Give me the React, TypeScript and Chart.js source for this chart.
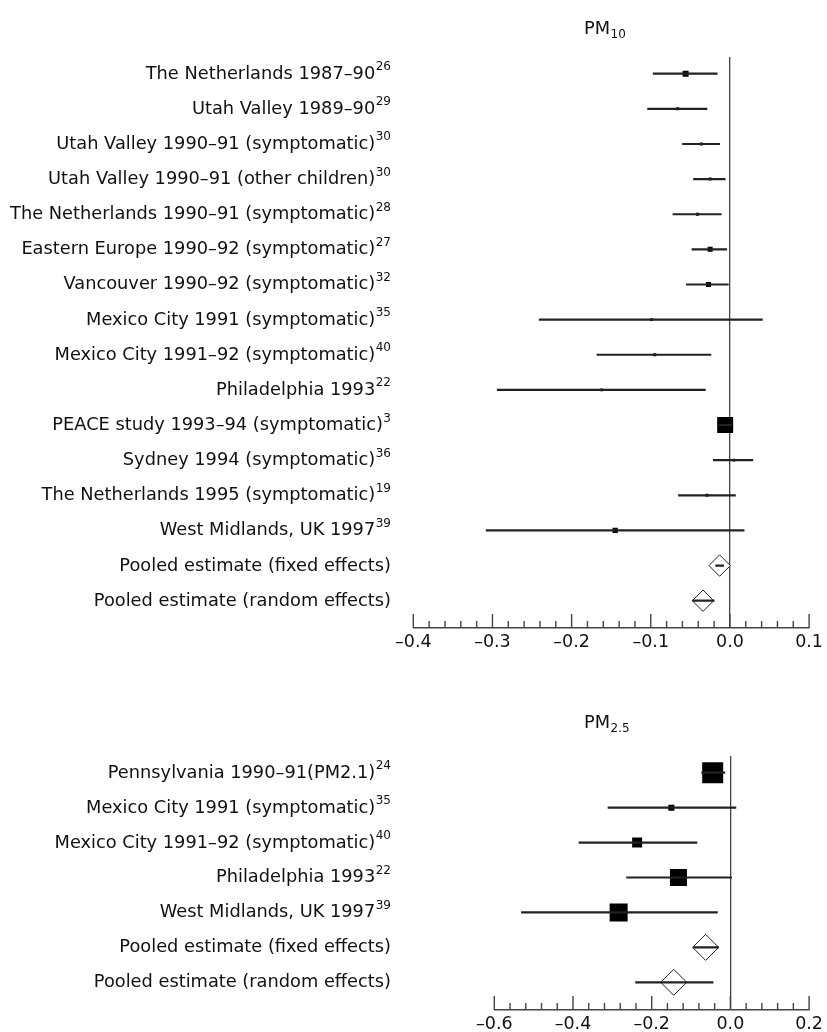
import React, { useEffect, useRef } from 'react';
import { Chart, registerables } from 'chart.js';
Chart.register(...registerables);

const FONT = '"DejaVu Sans", sans-serif';
const MAIN_SIZE = 17.8;
const SUP_SIZE = 12;
const TICK_SIZE = 17.5;

// ---------- PM10 panel ----------
const pm10Studies = [
  'The Netherlands 1987–90',
  'Utah Valley 1989–90',
  'Utah Valley 1990–91 (symptomatic)',
  'Utah Valley 1990–91 (other children)',
  'The Netherlands 1990–91 (symptomatic)',
  'Eastern Europe 1990–92 (symptomatic)',
  'Vancouver 1990–92 (symptomatic)',
  'Mexico City 1991 (symptomatic)',
  'Mexico City 1991–92 (symptomatic)',
  'Philadelphia 1993',
  'PEACE study 1993–94 (symptomatic)',
  'Sydney 1994 (symptomatic)',
  'The Netherlands 1995 (symptomatic)',
  'West Midlands, UK 1997',
];
const pm10Refs = ['26', '29', '30', '30', '28', '27', '32', '35', '40', '22', '3', '36', '19', '39'];
const pm10Estimate = [-0.056, -0.066, -0.036, -0.025, -0.041, -0.025, -0.027, -0.099, -0.095, -0.162, -0.006, 0.005, -0.029, -0.145];
const pm10Lower = [-0.097, -0.104, -0.060, -0.046, -0.072, -0.048, -0.055, -0.241, -0.168, -0.294, -0.014, -0.021, -0.065, -0.308];
const pm10Upper = [-0.016, -0.029, -0.013, -0.006, -0.011, -0.004, -0.002, 0.041, -0.024, -0.031, 0.002, 0.029, 0.007, 0.018];
const pm10Weight = [36, 9, 9, 9, 9, 25, 25, 8, 9, 8, 256, 8, 9, 28];
const pm10PooledLabels = ['Pooled estimate (fixed effects)', 'Pooled estimate (random effects)'];
const pm10PooledEstimate = [-0.013, -0.034];
const pm10PooledLower = [-0.018, -0.047];
const pm10PooledUpper = [-0.008, -0.020];
const pm10TickValues = [-0.4, -0.3, -0.2, -0.1, 0.0, 0.1];

// ---------- PM2.5 panel ----------
const pm25Studies = [
  'Pennsylvania 1990–91(PM2.1)',
  'Mexico City 1991 (symptomatic)',
  'Mexico City 1991–92 (symptomatic)',
  'Philadelphia 1993',
  'West Midlands, UK 1997',
];
const pm25Refs = ['24', '35', '40', '22', '39'];
const pm25Estimate = [-0.045, -0.150, -0.237, -0.132, -0.284];
const pm25Lower = [-0.073, -0.311, -0.385, -0.264, -0.531];
const pm25Upper = [-0.014, 0.014, -0.085, 0.003, -0.033];
const pm25Weight = [441, 36, 100, 289, 324];
const pm25PooledLabels = ['Pooled estimate (fixed effects)', 'Pooled estimate (random effects)'];
const pm25PooledEstimate = [-0.063, -0.144];
const pm25PooledLower = [-0.094, -0.241];
const pm25PooledUpper = [-0.030, -0.044];
const pm25TickValues = [-0.6, -0.4, -0.2, 0.0, 0.2];

type Panel = {
  title: string;
  titleSub: string;
  studies: string[];
  refs: string[];
  estimate: number[];
  lower: number[];
  upper: number[];
  weight: number[];
  pooledLabels: string[];
  pooledEstimate: number[];
  pooledLower: number[];
  pooledUpper: number[];
  tickValues: number[];
  minorPerMajor: number;
  yMin: number;
  yMax: number;
  padding: { left: number; right: number; top: number; bottom: number };
  diamondRadius: number;
  titleX: number;
  titleY: number;
  labelRight: number;
};

const fmt = (v: number) => {
  if (Math.abs(v) < 1e-9) return '0.0';
  return (v < 0 ? '–' : '') + Math.abs(v).toFixed(1);
};

function buildChart(canvas: HTMLCanvasElement, p: Panel) {
  const n = p.studies.length;
  const allLabels = [...p.studies, ...p.pooledLabels];
  const allRefs = [...p.refs, ...p.pooledLabels.map(() => '')];
  const ciData = [
    ...p.lower.map((lo, i) => ({ x: [lo, p.upper[i]], y: i + 1 })),
    ...p.pooledLower.map((lo, i) => ({ x: [lo, p.pooledUpper[i]], y: n + i + 1 })),
  ];
  const squares = p.estimate.map((e, i) => ({ x: e, y: i + 1 }));
  const squareRadius = p.weight.map((w) => Math.sqrt(w) / (2 * Math.SQRT1_2));
  const diamonds = p.pooledEstimate.map((e, i) => ({ x: e, y: n + i + 1 }));
  const xMin = p.tickValues[0];
  const xMax = p.tickValues[p.tickValues.length - 1];

  const labelPlugin = {
    id: 'rowLabels',
    afterDraw(chart: any) {
      const ctx = chart.ctx;
      const ys = chart.scales.y;
      ctx.save();
      ctx.fillStyle = '#111';
      ctx.textBaseline = 'alphabetic';
      allLabels.forEach((lab, i) => {
        const y = ys.getPixelForValue(i + 1) + 5;
        let right = p.labelRight;
        const ref = allRefs[i];
        if (ref) {
          ctx.font = `${SUP_SIZE}px ${FONT}`;
          const w = ctx.measureText(ref).width;
          ctx.textAlign = 'left';
          ctx.fillText(ref, right - w, y - 8.5);
          right -= w + 0.5;
        }
        ctx.font = `${MAIN_SIZE}px ${FONT}`;
        ctx.textAlign = 'right';
        ctx.fillText(lab, right, y);
      });
      // title
      ctx.textAlign = 'left';
      ctx.font = `${MAIN_SIZE}px ${FONT}`;
      ctx.fillText(p.title, p.titleX, p.titleY);
      const tw = ctx.measureText(p.title).width;
      ctx.font = `${SUP_SIZE}px ${FONT}`;
      ctx.fillText(p.titleSub, p.titleX + tw + 0.5, p.titleY + 4);
      ctx.restore();
    },
  };

  const tickMarkPlugin = {
    id: 'upTicks',
    afterDraw(chart: any) {
      const ctx = chart.ctx;
      const xs = chart.scales.x;
      const bottom = chart.chartArea.bottom;
      const majorStep = p.tickValues[1] - p.tickValues[0];
      const minorStep = majorStep / p.minorPerMajor;
      const count = Math.round((xMax - xMin) / minorStep);
      ctx.save();
      ctx.strokeStyle = '#444';
      ctx.lineWidth = 1.4;
      for (let i = 0; i <= count; i++) {
        const v = xMin + i * minorStep;
        const px = xs.getPixelForValue(v);
        const len = i % p.minorPerMajor === 0 ? 14 : 7;
        ctx.beginPath();
        ctx.moveTo(px, bottom);
        ctx.lineTo(px, bottom - len);
        ctx.stroke();
      }
      ctx.restore();
    },
  };

  return new Chart(canvas, {
    type: 'bar',
    data: {
      datasets: [
        {
          type: 'bar',
          data: ciData as any,
          backgroundColor: '#222',
          borderWidth: 0,
          barThickness: 1.5,
          order: 0,
        } as any,
        {
          type: 'scatter',
          data: squares,
          pointStyle: 'rect',
          pointRadius: squareRadius,
          backgroundColor: '#000',
          borderWidth: 0,
          pointBorderWidth: 0,
          showLine: false,
          order: 1,
        } as any,
        {
          type: 'scatter',
          data: diamonds,
          pointStyle: 'rectRot',
          pointRadius: p.diamondRadius,
          backgroundColor: '#fff',
          borderColor: '#222',
          borderWidth: 1,
          pointBorderWidth: 1,
          showLine: false,
          order: 2,
        } as any,
      ],
    },
    options: {
      indexAxis: 'y',
      responsive: false,
      animation: false,
      devicePixelRatio: 1,
      events: [],
      layout: { padding: p.padding, autoPadding: false } as any,
      plugins: {
        legend: { display: false },
        tooltip: { enabled: false },
        title: { display: false },
      },
      scales: {
        x: {
          type: 'linear',
          position: 'bottom',
          min: xMin,
          max: xMax,
          afterBuildTicks: (scale: any) => {
            scale.ticks = p.tickValues.map((v) => ({ value: v }));
          },
          grid: {
            drawTicks: false,
            lineWidth: 1.3,
            color: (c: any) => (c.tick && Math.abs(c.tick.value) < 1e-9 ? '#444' : 'rgba(0,0,0,0)'),
          },
          border: { display: true, color: '#444', width: 1.5 },
          ticks: {
            padding: 4,
            color: '#111',
            font: { family: FONT, size: TICK_SIZE },
            maxRotation: 0,
            autoSkip: false,
            callback: (v: any) => fmt(Number(v)),
          },
        },
        y: {
          type: 'linear',
          display: false,
          reverse: true,
          offset: false,
          min: p.yMin,
          max: p.yMax,
          grid: { offset: false },
        },
      },
    } as any,
    plugins: [labelPlugin, tickMarkPlugin],
  });
}

const topPanel: Panel = {
  title: 'PM',
  titleSub: '10',
  studies: pm10Studies,
  refs: pm10Refs,
  estimate: pm10Estimate,
  lower: pm10Lower,
  upper: pm10Upper,
  weight: pm10Weight,
  pooledLabels: pm10PooledLabels,
  pooledEstimate: pm10PooledEstimate,
  pooledLower: pm10PooledLower,
  pooledUpper: pm10PooledUpper,
  tickValues: pm10TickValues,
  minorPerMajor: 5,
  yMin: 0.525,
  yMax: 16.777,
  padding: { left: 413.3, right: 10.3, top: 57, bottom: 3.0 },
  diamondRadius: 10.7,
  titleX: 584,
  titleY: 34,
  labelRight: 391,
};

const bottomPanel: Panel = {
  title: 'PM',
  titleSub: '2.5',
  studies: pm25Studies,
  refs: pm25Refs,
  estimate: pm25Estimate,
  lower: pm25Lower,
  upper: pm25Upper,
  weight: pm25Weight,
  pooledLabels: pm25PooledLabels,
  pooledEstimate: pm25PooledEstimate,
  pooledLower: pm25PooledLower,
  pooledUpper: pm25PooledUpper,
  tickValues: pm25TickValues,
  minorPerMajor: 5,
  yMin: 0.522,
  yMax: 7.793,
  padding: { left: 494.3, right: 10.3, top: 96, bottom: 1.0 },
  diamondRadius: 13,
  titleX: 584,
  titleY: 68,
  labelRight: 391,
};

export default function App() {
  const topRef = useRef<HTMLCanvasElement>(null);
  const botRef = useRef<HTMLCanvasElement>(null);
  useEffect(() => {
    const c1 = buildChart(topRef.current!, topPanel);
    const c2 = buildChart(botRef.current!, bottomPanel);
    return () => {
      c1.destroy();
      c2.destroy();
    };
  }, []);
  return (
    <div
      style={{
        position: 'fixed',
        left: 0,
        top: 0,
        width: 827,
        height: 1032,
        overflow: 'hidden',
        background: '#fff',
      }}
    >
      <canvas ref={topRef} width={827} height={660} style={{ position: 'absolute', left: 0, top: 0 }} />
      <canvas ref={botRef} width={827} height={380} style={{ position: 'absolute', left: 0, top: 660 }} />
    </div>
  );
}
